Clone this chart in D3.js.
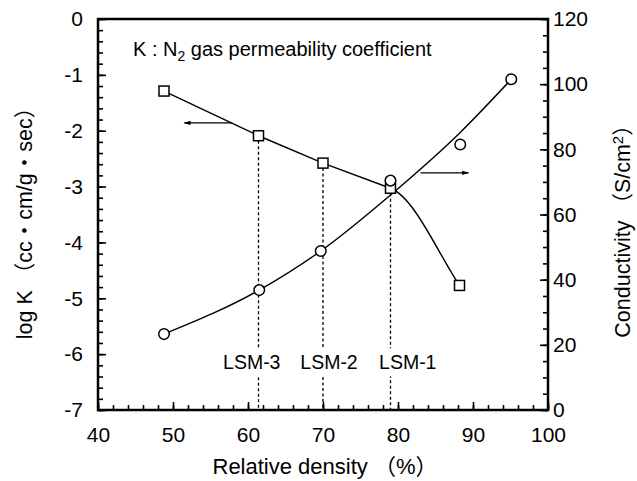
<!DOCTYPE html>
<html>
<head>
<meta charset="utf-8">
<script src="https://cdn.jsdelivr.net/npm/d3@7/dist/d3.min.js"></script>
<style>
  body { margin: 0; background: #fff; }
  svg text { font-family: "Liberation Sans", Arial, "Noto Sans CJK JP", sans-serif; fill: #000; }
</style>
</head>
<body>
<div id="chart"></div>
<script>
// Relative density (%) of the samples
const densityK = [48.8, 61.4, 70.0, 79.0, 88.2];
// log K (N2 gas permeability), left axis
const logK = [-1.29, -2.09, -2.58, -3.03, -4.77];

const densityC = [48.8, 61.5, 69.7, 79.0, 88.3, 95.1];
// Conductivity (S/cm2), right axis
const conductivity = [23.3, 36.8, 48.8, 70.4, 81.5, 101.5];
// smooth fitted curve drawn through the conductivity data
const conductivityFit = [23.3, 36.8, 48.8, 66.0, 85.2, 101.5];

// dashed markers for the three samples
const sampleNames = ['LSM-3', 'LSM-2', 'LSM-1'];
const sampleDensity = [61.4, 70.0, 79.0];
const sampleLogK = [-2.09, -2.58, -3.03];
const sampleLabelX = [60.5, 70.8, 81.3];

// tick values
const xTicks = [40, 50, 60, 70, 80, 90, 100];
const yLeftTicks = [0, -1, -2, -3, -4, -5, -6, -7];
const yRightTicks = [0, 20, 40, 60, 80, 100, 120];

const width = 637, height = 481;
const margins = { top: 19, bottom: 71, left: 98, right: 89 };
const w = width - margins.left - margins.right;
const h = height - margins.top - margins.bottom;

const svg = d3.select('#chart')
  .append('svg')
  .attr('width', width)
  .attr('height', height);

const canvas = svg.append('g')
  .attr('transform', `translate(${margins.left},${margins.top})`);

const x = d3.scaleLinear().domain([40, 100]).range([0, w]);
const yL = d3.scaleLinear().domain([-7, 0]).range([h, 0]);
const yR = d3.scaleLinear().domain([0, 120]).range([h, 0]);

// Axes: ticks point inward, minor ticks drawn without labels
function styleAxis(g) {
  g.select('.domain').remove();
  g.selectAll('line').attr('stroke', '#000').attr('stroke-width', 1.6);
  g.selectAll('text').style('font-size', '21px').attr('fill', '#000');
}
const plain = d => String(d);

canvas.append('g')
  .call(d3.axisLeft(yL).tickValues(d3.range(-7, 0.01, 0.2)).tickSize(-5).tickFormat(''))
  .call(styleAxis);
canvas.append('g')
  .call(d3.axisLeft(yL).tickValues(yLeftTicks).tickSize(-8).tickPadding(15).tickFormat(plain))
  .call(styleAxis);

canvas.append('g')
  .attr('transform', `translate(${w},0)`)
  .call(d3.axisRight(yR).tickValues(d3.range(0, 121, 5)).tickSize(-5).tickFormat(''))
  .call(styleAxis);
canvas.append('g')
  .attr('transform', `translate(${w},0)`)
  .call(d3.axisRight(yR).tickValues(yRightTicks).tickSize(-8).tickPadding(5).tickFormat(plain))
  .call(styleAxis);

canvas.append('g')
  .attr('transform', `translate(0,${h})`)
  .call(d3.axisBottom(x).tickValues(d3.range(40, 101, 2)).tickSize(-5).tickFormat(''))
  .call(styleAxis);
canvas.append('g')
  .attr('transform', `translate(0,${h})`)
  .call(d3.axisBottom(x).tickValues(xTicks).tickSize(-8).tickPadding(17).tickFormat(plain))
  .call(styleAxis);

// Frame
canvas.append('rect')
  .attr('width', w).attr('height', h)
  .attr('fill', 'none').attr('stroke', '#000').attr('stroke-width', 2.5);

// Dashed sample lines and labels
sampleNames.forEach((name, i) => {
  canvas.append('line')
    .attr('x1', x(sampleDensity[i])).attr('x2', x(sampleDensity[i]))
    .attr('y1', yL(sampleLogK[i]) + 5).attr('y2', h)
    .attr('stroke', '#000').attr('stroke-width', 1.3)
    .attr('stroke-dasharray', '3,2.5');
});

const labels = canvas.append('g');
sampleNames.forEach((name, i) => {
  const t = labels.append('text')
    .attr('x', x(sampleLabelX[i]))
    .attr('y', yL(-6.15))
    .attr('dy', '0.35em')
    .attr('text-anchor', 'middle')
    .style('font-size', '19.5px')
    .text(name);
  const b = t.node().getBBox();
  labels.insert('rect', 'text')
    .attr('x', b.x - 2).attr('y', b.y - 3)
    .attr('width', b.width + 4).attr('height', b.height + 6)
    .attr('fill', '#fff');
});

// Lines
const kPts = densityK.map((d, i) => [d, logK[i]]);
const cFit = densityC.map((d, i) => [d, conductivityFit[i]]);

// log K: straight segments up to LSM-1, then a smooth bend down to the last point
const kPx = kPts.map(d => [x(d[0]), yL(d[1])]);
const n = kPx.length;
const kPath = d3.path();
kPath.moveTo(kPx[0][0], kPx[0][1]);
for (let i = 1; i < n - 1; i++) kPath.lineTo(kPx[i][0], kPx[i][1]);
const p3 = kPx[n - 3], p4 = kPx[n - 2], p5 = kPx[n - 1];
kPath.bezierCurveTo(
  p4[0] + 0.35 * (p4[0] - p3[0]), p4[1] + 0.35 * (p4[1] - p3[1]),
  p5[0] - 22, p5[1] - 33,
  p5[0], p5[1]);

canvas.append('path')
  .attr('fill', 'none').attr('stroke', '#000').attr('stroke-width', 1.4)
  .attr('d', kPath.toString());

canvas.append('path')
  .datum(cFit)
  .attr('fill', 'none').attr('stroke', '#000').attr('stroke-width', 1.4)
  .attr('d', d3.line().x(d => x(d[0])).y(d => yR(d[1])).curve(d3.curveMonotoneX));

// Markers
canvas.selectAll('rect.sq')
  .data(kPts)
  .join('rect')
  .classed('sq', true)
  .attr('x', d => x(d[0]) - 5)
  .attr('y', d => yL(d[1]) - 5)
  .attr('width', 10).attr('height', 10)
  .attr('fill', '#fff').attr('stroke', '#000').attr('stroke-width', 1.5);

canvas.selectAll('circle')
  .data(densityC.map((d, i) => [d, conductivity[i]]))
  .join('circle')
  .attr('cx', d => x(d[0]))
  .attr('cy', d => yR(d[1]))
  .attr('r', 5.3)
  .attr('fill', '#fff').attr('stroke', '#000').attr('stroke-width', 1.5);

// Arrows pointing to each series' axis
const defs = svg.append('defs');
defs.append('marker')
  .attr('id', 'head')
  .attr('viewBox', '0 0 10 10')
  .attr('refX', 9).attr('refY', 5)
  .attr('markerWidth', 10).attr('markerHeight', 7)
  .attr('markerUnits', 'userSpaceOnUse')
  .attr('orient', 'auto')
  .append('path')
  .attr('d', 'M0,2 L10,5 L0,8 Z')
  .attr('fill', '#000');

canvas.append('line')
  .attr('x1', x(57.9)).attr('x2', x(51.5))
  .attr('y1', yL(-1.86)).attr('y2', yL(-1.86))
  .attr('stroke', '#000').attr('stroke-width', 1.2)
  .attr('marker-end', 'url(#head)');

canvas.append('line')
  .attr('x1', x(83.0)).attr('x2', x(89.4))
  .attr('y1', yR(72.8)).attr('y2', yR(72.8))
  .attr('stroke', '#000').attr('stroke-width', 1.2)
  .attr('marker-end', 'url(#head)');

// Annotation
const note = canvas.append('text')
  .attr('x', 133 - margins.left)
  .attr('y', 56 - margins.top)
  .style('font-size', '20px');
note.append('tspan').text('K : N');
note.append('tspan').attr('dy', 5).style('font-size', '14px').text('2');
note.append('tspan').attr('dy', -5).text(' gas permeability coefficient');

// Axis titles
svg.append('text')
  .attr('x', 325)
  .attr('y', 474)
  .attr('text-anchor', 'middle')
  .style('font-size', '22px')
  .text('Relative density （%）');

svg.append('text')
  .attr('transform', 'translate(32,218) rotate(-90)')
  .attr('text-anchor', 'middle')
  .style('font-size', '21.5px')
  .text('log K （cc・cm/g・sec）');

const rt = svg.append('text')
  .attr('transform', 'translate(630,226) rotate(-90)')
  .attr('text-anchor', 'middle')
  .style('font-size', '21.5px');
rt.append('tspan').text('Conductivity （S/cm');
rt.append('tspan').attr('dy', -7).style('font-size', '15px').text('2');
rt.append('tspan').attr('dy', 7).text('）');
</script>
</body>
</html>
